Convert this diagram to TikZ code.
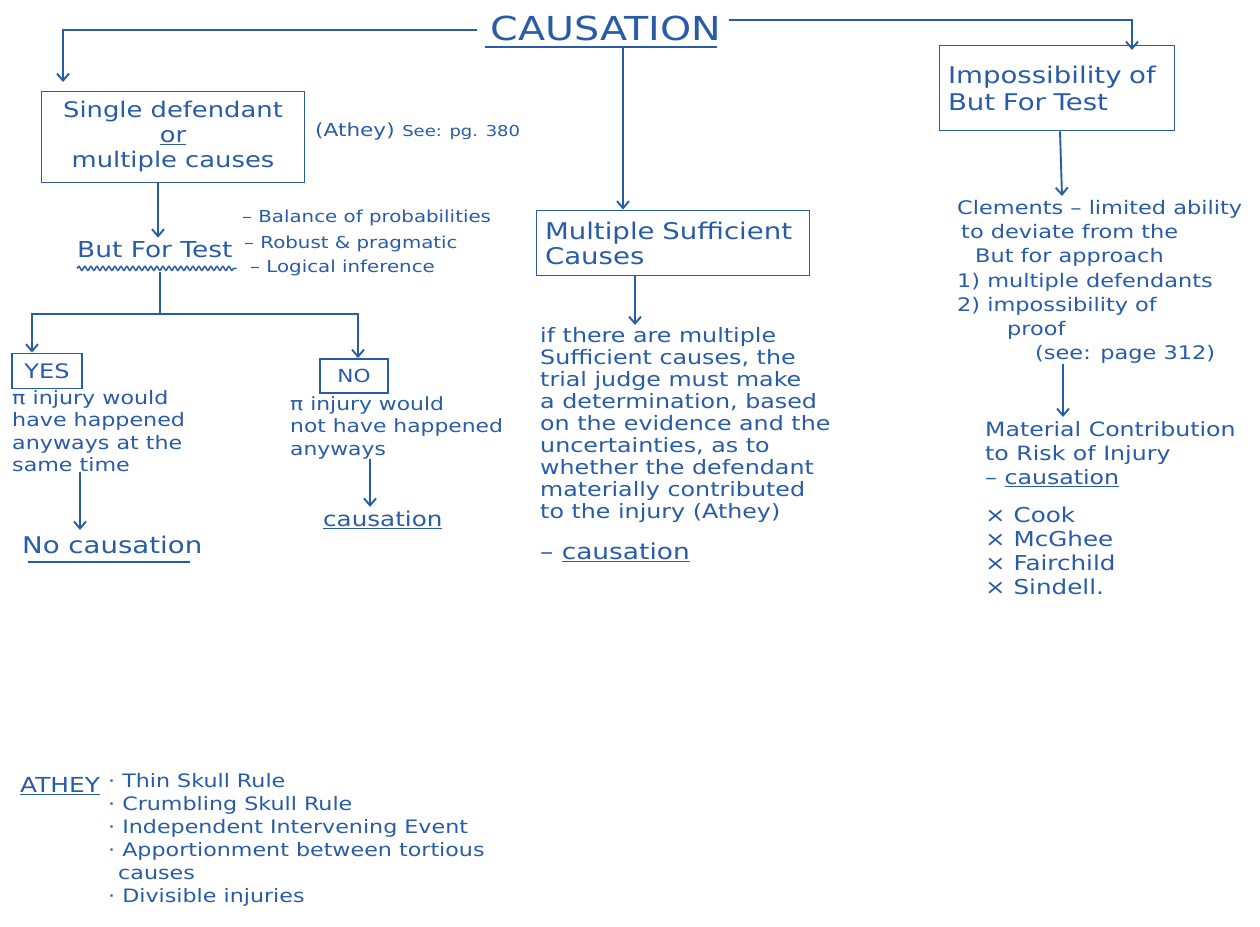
\documentclass[tikz,border=0pt]{standalone}
\usepackage{fontspec}
\setmainfont[FakeStretch=1.2]{DejaVu Sans}
\usetikzlibrary{arrows.meta,decorations.pathmorphing,calc}
\definecolor{ink}{RGB}{40,92,168}
\newcommand{\fs}[2]{\fontsize{#1}{#2}\selectfont}
\begin{document}
\begin{tikzpicture}[x=1pt,y=-1pt,
  every node/.style={text=ink, inner sep=0pt},
  ln/.style={draw=ink, line width=1.9pt},
  arr/.style={ln, -{Straight Barb[length=7pt,width=12pt]}},
  hbox/.style={draw=ink, line width=1.9pt, inner sep=6pt},
  txt/.style={align=left},
  wavy/.style={ln, line width=1.5pt, decorate, decoration={snake, amplitude=2pt, segment length=6pt}}]
\useasboundingbox (0,0) rectangle (1260,926);
\fill[white] (0,0) rectangle (1260,926);

% title
\node[font=\fs{33}{38}] (cau) at (606,28) {CAUSATION};
\draw[ln] ($(cau.south west)+(-6,6)$) -- ($(cau.south east)+(-4,6)$);

% boxes
\node[hbox, font=\fs{21.5}{25}, align=center, minimum width=263, minimum height=91] (box1) at (173,137)
  {Single defendant\\ \underline{or}\\ multiple causes};
\node[txt, anchor=west] (ath) at (315,132) {{\fs{18}{20}(Athey)}\ \ {\fs{15}{18}See: pg. 380}};

\node[hbox, font=\fs{23}{25}, align=left, minimum width=273, minimum height=65, text width=256] (box2) at (673,243)
  {Multiple Sufficient\\ Causes};

\node[hbox, font=\fs{23}{27}, align=left, minimum width=235, minimum height=85, text width=218] (box3) at (1057,88)
  {Impossibility of\\ But For Test};

% connectors from title
\coordinate (c1) at (63,82);
\coordinate (c2) at (1132,50);
\draw[arr] ([xshift=-14pt,yshift=-2pt]cau.west) -| (c1);
\draw[arr] ([xshift=8pt,yshift=8pt]cau.east) -| (c2);
\draw[arr] ($(cau.south -| 623,0)+(0,6)$) -- (box2.north -| 623,0);

% left branch
\node[txt, anchor=west, font=\fs{22}{24}] (bft) at (77,250) {But For Test};
\draw[wavy] ($(bft.south west)+(0,10)$) -- ($(bft.south east)+(4,10)$);
\node[txt, anchor=west, font=\fs{16.5}{20}] (l1) at (242,218) {– Balance of probabilities};
\node[txt, anchor=west, font=\fs{16.5}{20}] (l2) at (244,244) {– Robust \& pragmatic};
\node[txt, anchor=west, font=\fs{16.5}{20}] (l3) at (250,268) {– Logical inference};
\draw[arr] (box1.south -| 158,0) -- ($(bft.north -| 158,0)+(0,-4)$);

\coordinate (split) at (160,314);
\draw[ln] ($(bft.south -| 160,0)+(0,14)$) -- (split);
\node[hbox, font=\fs{20}{22}, minimum width=70, minimum height=35, inner sep=0pt] (yes) at (47,371) {YES};
\node[hbox, font=\fs{18}{22}, minimum width=68, minimum height=34, inner sep=0pt] (no) at (354,376) {NO};
\draw[arr] (split) -| ([xshift=-15pt]yes.north);
\draw[arr] (split) -| ([xshift=4pt]no.north);

\node[txt, anchor=north west, font=\fs{18.5}{22.5}] (yt) at (12,390)
  {π injury would\\ have happened\\ anyways at the\\ same time};
\node[txt, anchor=west, font=\fs{23}{26}] (ync) at (22,545) {No causation};
\draw[ln, line width=1.6pt] (28,562) -- (190,562);
\draw[arr] (yt.south -| 80,0) -- ($(ync.north -| 80,0)+(0,-6)$);

\node[txt, anchor=north west, font=\fs{18.2}{22.5}] (nt) at (290,396)
  {π injury would\\ not have happened\\ anyways};
\node[txt, anchor=west, font=\fs{20.5}{24}] (nc) at (323,520) {\underline{causation}};
\draw[arr] (nt.south -| 370,0) -- ($(nc.north -| 370,0)+(0,-4)$);

% middle branch
\node[txt, anchor=north west, font=\fs{19.8}{22}] (para) at (540,327)
  {if there are multiple\\ Sufficient causes, the\\ trial judge must make\\ a determination, based\\ on the evidence and the\\ uncertainties, as to\\ whether the defendant\\ materially contributed\\ to the injury (Athey)};
\node[txt, anchor=west, font=\fs{22}{24}] (mc) at (540,552) {– \underline{causation}};
\draw[arr] (box2.south -| 635,0) -- ($(para.north -| 635,0)+(0,-2)$);

% right branch
\node[txt, anchor=north west, font=\fs{18.7}{24.2}] (cl) at (957,200)
  {Clements – limited ability\\ \hspace*{4pt}to deviate from the\\ \hspace*{18pt}But for approach\\ 1) multiple defendants\\ 2) impossibility of\\ \hspace*{50pt}proof\\ \hspace*{78pt}(see: page 312)};
\draw[arr] (box3.south -| 1060,0) -- ($(cl.north -| 1062,0)+(0,-4)$);
\node[txt, anchor=north west, font=\fs{19.7}{24}] (mat) at (985,421)
  {Material Contribution\\ to Risk of Injury\\ – \underline{causation}};
\draw[arr] (cl.south -| 1063,0) -- ($(mat.north -| 1063,0)+(0,-4)$);
\node[txt, anchor=north west, font=\fs{20.5}{24}] (cases) at (985,507)
  {× Cook\\ × McGhee\\ × Fairchild\\ × Sindell.};

% Athey list
\node[txt, anchor=west, font=\fs{20.7}{24}] (athey) at (20,786) {\underline{ATHEY}};
\node[txt, anchor=north west, font=\fs{18.5}{23}] (al) at (108,773)
  {· Thin Skull Rule\\ · Crumbling Skull Rule\\ · Independent Intervening Event\\ · Apportionment between tortious\\ \hspace*{10pt}causes\\ · Divisible injuries};
\end{tikzpicture}
\end{document}
